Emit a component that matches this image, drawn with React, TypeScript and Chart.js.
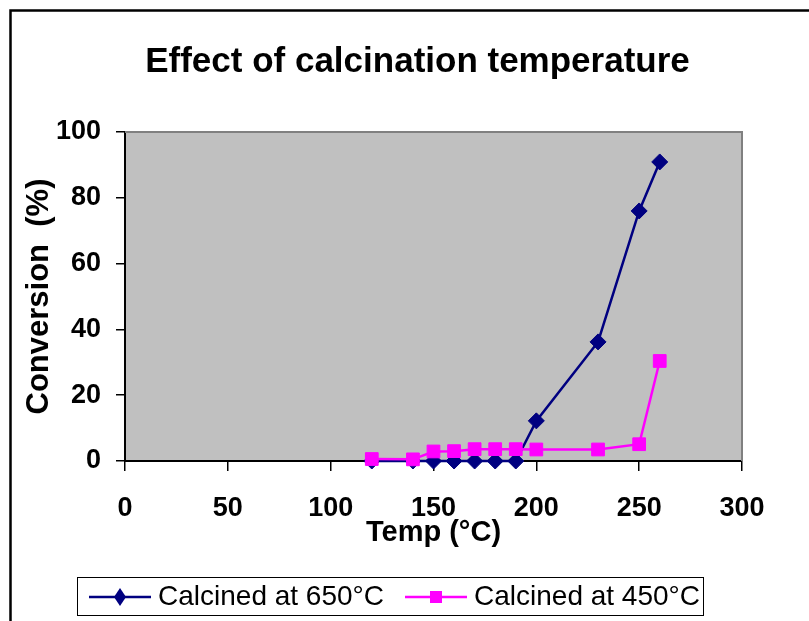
import React, { useEffect, useRef } from "react";
import { Chart, registerables } from "chart.js";

Chart.register(...registerables);

const chartTitle = "Effect of calcination temperature";
const xAxisTitle = "Temp (°C)";
const yAxisTitle = "Conversion  (%)";
const seriesNames = ["Calcined at 650°C", "Calcined at 450°C"];

const temps650 = [120, 140, 150, 160, 170, 180, 190, 200, 230, 250, 260];
const conv650 = [0, 0, 0, 0, 0, 0, 0, 12.2, 36.2, 76, 90.9];
const temps450 = [120, 140, 150, 160, 170, 180, 190, 200, 230, 250, 260];
const conv450 = [0.6, 0.5, 2.9, 3.0, 3.6, 3.6, 3.6, 3.5, 3.5, 5.1, 30.4];

const xMin = 0, xMax = 300, xStep = 50;
const yMin = 0, yMax = 100, yStep = 20;

const NAVY = "#000080";
const MAGENTA = "#FF00FF";
const SANS = "'Liberation Sans', Arial, sans-serif";

function legendSample(color: string, shape: "diamond" | "square"): HTMLCanvasElement {
  const c = document.createElement("canvas");
  c.width = 62;
  c.height = 20;
  const g = c.getContext("2d")!;
  g.strokeStyle = color;
  g.lineWidth = 2.5;
  g.beginPath();
  g.moveTo(0, 10);
  g.lineTo(62, 10);
  g.stroke();
  g.fillStyle = color;
  g.beginPath();
  if (shape === "diamond") {
    g.moveTo(31, 1);
    g.lineTo(37, 10);
    g.lineTo(31, 19);
    g.lineTo(25, 10);
    g.closePath();
  } else {
    g.rect(25, 4, 12, 12);
  }
  g.fill();
  return c;
}

const framePlugin = {
  id: "frame",
  afterLayout(chart: any) {
    const t = chart.titleBlock;
    if (t) t.left = 93;
    const lg = chart.legend;
    if (lg) lg.left = 68;
  },
  beforeDraw(chart: any) {
    const { ctx, chartArea } = chart;
    ctx.save();
    ctx.fillStyle = "#C0C0C0";
    ctx.fillRect(chartArea.left, chartArea.top, chartArea.right - chartArea.left, chartArea.bottom - chartArea.top);
    ctx.strokeStyle = "#000";
    ctx.lineWidth = 2.5;
    ctx.beginPath();
    ctx.moveTo(10.5, chart.height);
    ctx.lineTo(10.5, 10.5);
    ctx.lineTo(chart.width, 10.5);
    ctx.stroke();
    ctx.restore();
  },
  beforeDatasetsDraw(chart: any) {
    const { ctx, chartArea } = chart;
    ctx.save();
    ctx.strokeStyle = "#808080";
    ctx.lineWidth = 2;
    ctx.beginPath();
    ctx.moveTo(chartArea.left, chartArea.top);
    ctx.lineTo(chartArea.right, chartArea.top);
    ctx.lineTo(chartArea.right, chartArea.bottom);
    ctx.stroke();
    ctx.restore();
  },
  afterDraw(chart: any) {
    const lg = chart.legend;
    if (!lg || !lg.legendHitBoxes || !lg.legendHitBoxes.length) return;
    const boxes = lg.legendHitBoxes;
    const first = boxes[0];
    const last = boxes[boxes.length - 1];
    const cy = first.top + first.height / 2;
    const { ctx } = chart;
    ctx.save();
    ctx.strokeStyle = "#000";
    ctx.lineWidth = 1;
    const l = Math.round(first.left - 19) + 0.5;
    const r = Math.round(last.left + last.width + 3) + 0.5;
    const t = Math.round(cy - 20) + 0.5;
    const b = Math.round(cy + 18) + 0.5;
    ctx.strokeRect(l, t, r - l, b - t);
    ctx.restore();
  },
};

export default function App() {
  const ref = useRef<HTMLCanvasElement | null>(null);

  useEffect(() => {
    if (!ref.current) return;
    const samples = [legendSample(NAVY, "diamond"), legendSample(MAGENTA, "square")];
    const chart = new Chart(ref.current, {
      type: "scatter",
      data: {
        datasets: [
          {
            label: seriesNames[0],
            data: temps650.map((x, i) => ({ x, y: conv650[i] })),
            showLine: true,
            borderColor: NAVY,
            backgroundColor: NAVY,
            borderWidth: 2.5,
            pointStyle: "rectRot",
            pointRadius: 8,
            pointBorderWidth: 1,
            pointBorderColor: NAVY,
            pointBackgroundColor: NAVY,
            clip: false,
            order: 1,
          } as any,
          {
            label: seriesNames[1],
            data: temps450.map((x, i) => ({ x, y: conv450[i] })),
            showLine: true,
            borderColor: MAGENTA,
            backgroundColor: MAGENTA,
            borderWidth: 2.5,
            pointStyle: "rect",
            pointRadius: 9,
            pointBorderWidth: 1,
            pointBorderColor: MAGENTA,
            pointBackgroundColor: MAGENTA,
            clip: false,
            order: 0,
          } as any,
        ],
      },
      options: {
        responsive: false,
        animation: false,
        devicePixelRatio: 1,
        layout: { padding: { left: 12, right: 67, top: 12, bottom: 0 } },
        scales: {
          x: {
            type: "linear",
            min: xMin,
            max: xMax,
            ticks: {
              stepSize: xStep,
              color: "#000",
              padding: 21,
              font: { family: SANS, size: 27, weight: "bold" },
            },
            grid: { drawOnChartArea: false, drawTicks: true, tickLength: 10, color: "#000", lineWidth: 1.5 },
            border: { display: true, color: "#000", width: 2 },
            title: {
              display: true,
              text: xAxisTitle,
              color: "#000",
              font: { family: SANS, size: 29, weight: "bold" },
              padding: { top: 0, bottom: 4.6 },
            },
            afterFit: (s: any) => {
              s.height = 94;
            },
          },
          y: {
            type: "linear",
            min: yMin,
            max: yMax,
            ticks: {
              stepSize: yStep,
              color: "#000",
              padding: 15,
              font: { family: SANS, size: 27, weight: "bold" },
            },
            grid: { drawOnChartArea: false, drawTicks: true, tickLength: 9, color: "#000", lineWidth: 1.5 },
            border: { display: true, color: "#000", width: 2 },
            title: {
              display: true,
              text: yAxisTitle,
              color: "#000",
              font: { family: SANS, size: 31, weight: "bold" },
              padding: { top: 9, bottom: 0 },
            },
            afterFit: (s: any) => {
              s.width = 113;
            },
          },
        },
        plugins: {
          title: {
            display: true,
            text: chartTitle,
            color: "#000",
            font: { family: SANS, size: 35, weight: "bold" },
            padding: { top: 29, bottom: 49 },
          },
          legend: {
            position: "bottom",
            align: "start",
            labels: {
              usePointStyle: true,
              pointStyleWidth: 48,
              padding: 28,
              color: "#000",
              font: { family: SANS, size: 28 },
              sort: (a: any, b: any) => a.datasetIndex - b.datasetIndex,
              generateLabels: (ch: any) => {
                const items = Chart.defaults.plugins.legend.labels.generateLabels(ch);
                items.forEach((it: any) => {
                  it.pointStyle = samples[it.datasetIndex];
                });
                return items;
              },
            },
          },
          tooltip: { enabled: false },
        },
      } as any,
      plugins: [framePlugin],
    });
    return () => chart.destroy();
  }, []);

  return (
    <div style={{ position: "fixed", left: 0, top: 0, width: 809, height: 621, background: "#fff" }}>
      <canvas ref={ref} width={809} height={621} style={{ display: "block" }} />
    </div>
  );
}
